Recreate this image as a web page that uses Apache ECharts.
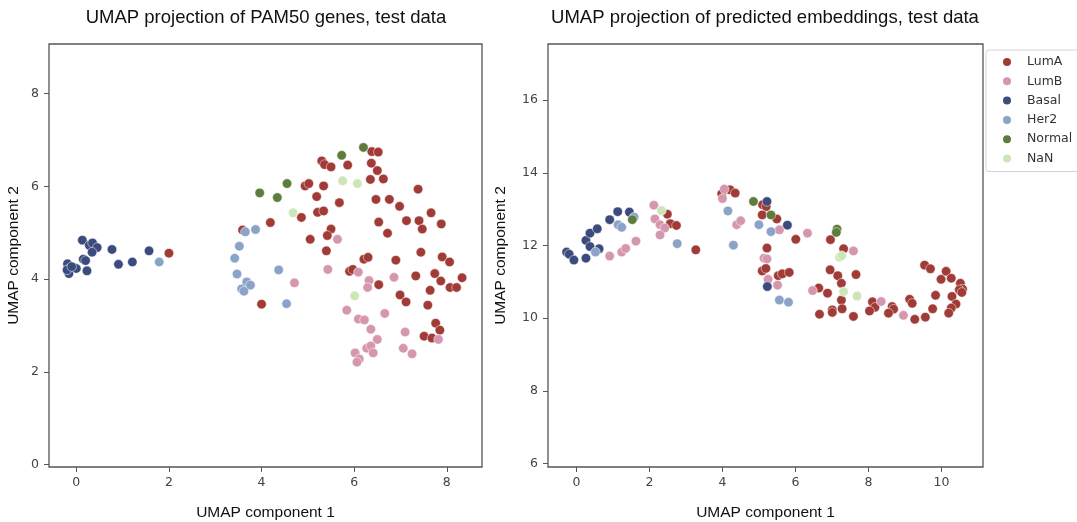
<!DOCTYPE html>
<html>
<head>
<meta charset="utf-8">
<script src="https://cdn.jsdelivr.net/npm/echarts@6/dist/echarts.min.js"></script>
<style>
html,body{margin:0;padding:0;background:#fff;}
#chart{width:1077px;height:522px;}
</style>
</head>
<body>
<div id="chart"></div>
<script>
// ---------- data ----------
const classNames = ['LumA', 'LumB', 'Basal', 'Her2', 'Normal', 'NaN'];
const classColors = ['#a03b37', '#d597ae', '#3c4b7e', '#8aa3c7', '#5e7d3d', '#cde6b8'];

const titleLeft = 'UMAP projection of PAM50 genes, test data';
const titleRight = 'UMAP projection of predicted embeddings, test data';
const xAxisName = 'UMAP component 1';
const yAxisName = 'UMAP component 2';

const leftXTicks = [0, 2, 4, 6, 8];
const leftYTicks = [0, 2, 4, 6, 8];
const rightXTicks = [0, 2, 4, 6, 8, 10];
const rightYTicks = [6, 8, 10, 12, 14, 16];

// PAM50 genes projection (left)
const pamLumA = [
  [2.0,4.56],[6.38,6.75],[6.52,6.74],[5.30,6.55],[5.36,6.47],[5.5,6.42],[5.86,6.46],[6.37,6.50],
  [6.5,6.34],[6.35,6.15],[6.63,6.16],[4.94,6.01],[5.02,6.06],[5.34,6.01],[7.38,5.94],[5.19,5.78],
  [5.68,5.65],[6.47,5.72],[6.76,5.72],[6.98,5.57],[7.66,5.43],[5.21,5.44],[5.34,5.47],[4.86,5.33],
  [4.19,5.22],[3.59,5.06],[6.53,5.23],[7.13,5.26],[7.4,5.26],[7.47,5.08],[7.88,5.19],[6.72,4.99],
  [5.5,5.08],[5.42,4.94],[5.05,4.86],[5.4,4.61],[6.21,4.43],[6.3,4.47],[6.9,4.41],[7.44,4.58],
  [7.9,4.48],[8.06,4.37],[5.9,4.17],[5.97,4.21],[7.33,4.07],[7.74,4.12],[8.33,4.03],[7.87,3.96],
  [6.53,3.88],[8.07,3.82],[8.21,3.82],[7.64,3.76],[6.99,3.66],[7.12,3.51],[7.59,3.44],[4.0,3.46],
  [7.76,3.05],[7.85,2.9],[7.51,2.77],[7.68,2.73]
];
const pamLumB = [
  [5.64,4.86],[5.43,4.21],[4.71,3.92],[6.09,4.15],[6.32,3.97],[6.29,3.82],[6.86,4.04],[5.84,3.33],
  [6.09,3.14],[6.22,3.12],[6.66,3.26],[6.36,2.92],[7.1,2.86],[6.5,2.70],[6.27,2.51],[6.36,2.56],
  [6.41,2.41],[6.02,2.41],[6.11,2.28],[6.06,2.21],[7.06,2.51],[7.25,2.39],[7.82,2.70]
];
const pamBasal = [
  [0.13,4.84],[0.28,4.73],[0.35,4.78],[0.45,4.68],[0.34,4.58],[0.77,4.64],[0.15,4.43],[0.2,4.40],
  [-0.19,4.33],[-0.14,4.23],[-0.16,4.12],[0.0,4.23],[0.23,4.18],[0.91,4.32],[1.21,4.37],[1.57,4.61],
  [-0.2,4.2],[-0.1,4.27]
];
const pamHer2 = [
  [1.79,4.37],[3.87,5.07],[3.65,5.02],[3.52,4.71],[3.42,4.45],[3.47,4.11],[4.37,4.2],[3.68,3.94],
  [3.76,3.87],[3.57,3.79],[3.62,3.74],[4.54,3.47]
];
const pamNormal = [[6.2,6.84],[5.73,6.67],[4.55,6.06],[3.96,5.86],[4.34,5.76]];
const pamNaN = [[5.75,6.12],[6.07,6.06],[4.68,5.43],[6.01,3.64]];

// predicted embeddings projection (right)
const embLumA = [
  [2.49,12.86],[2.57,12.6],[2.74,12.55],[3.27,11.88],[3.98,13.42],[4.21,13.53],[4.35,13.44],
  [5.1,13.12],[5.2,13.07],[5.09,12.84],[5.49,12.73],[6.01,12.17],[6.96,12.16],[5.22,11.93],
  [7.32,11.91],[5.09,11.3],[5.19,11.37],[5.53,11.17],[5.64,11.22],[5.83,11.26],[6.95,11.33],
  [7.16,11.17],[7.66,11.2],[7.26,10.96],[6.64,10.83],[6.88,10.69],[7.26,10.5],[7.01,10.23],
  [7.01,10.16],[7.28,10.26],[6.66,10.11],[7.59,10.05],[8.11,10.45],[8.18,10.3],[8.03,10.2],
  [8.65,10.32],[8.69,10.25],[8.55,10.14],[9.13,10.52],[9.2,10.41],[9.27,9.97],[9.56,10.03],
  [9.76,10.26],[9.84,10.63],[9.54,11.46],[9.7,11.36],[10.13,11.29],[10.27,11.1],[9.99,11.07],
  [10.52,10.96],[10.58,10.8],[10.49,10.78],[10.56,10.71],[10.29,10.6],[10.4,10.39],[10.27,10.28],
  [10.2,10.14]
];
const embLumB = [
  [0.91,11.71],[1.24,11.82],[1.35,11.92],[1.63,12.12],[2.12,13.11],[2.15,12.73],[2.29,12.57],
  [2.42,12.48],[2.29,12.29],[4.0,13.29],[4.05,13.55],[4.39,12.57],[4.5,12.68],[5.56,12.43],
  [6.33,12.34],[7.59,11.85],[5.14,11.65],[5.22,11.63],[5.25,11.07],[5.51,10.91],[6.47,10.76],
  [8.35,10.46],[8.96,10.08]
];
const embBasal = [
  [-0.27,11.82],[-0.2,11.76],[-0.07,11.6],[0.26,11.65],[0.26,12.14],[0.37,11.97],[0.37,12.34],
  [0.57,12.46],[0.62,11.91],[0.91,12.71],[1.13,12.93],[1.45,12.92],[5.22,13.21],[5.78,12.56],
  [5.23,10.87]
];
const embHer2 = [
  [0.52,11.82],[1.14,12.57],[1.24,12.5],[1.58,12.78],[2.76,12.05],[4.15,12.95],[4.3,12.01],
  [5.0,12.57],[5.33,12.38],[5.56,10.5],[5.81,10.44]
];
const embNormal = [[1.53,12.71],[4.85,13.21],[5.33,12.84],[7.14,12.45],[7.12,12.36]];
const embNaN = [[2.33,12.96],[7.21,11.68],[7.27,11.72],[7.32,10.73],[7.69,10.61]];

const leftSets = [pamLumA, pamLumB, pamBasal, pamHer2, pamNormal, pamNaN];
const rightSets = [embLumA, embLumB, embBasal, embHer2, embNormal, embNaN];

// ---------- chart ----------
const chart = echarts.init(document.getElementById('chart'), null, {renderer: 'canvas'});

const axisCol = '#555';
const nameStyle = {fontFamily: 'Liberation Sans', fontSize: 15.5, color: '#111'};
const labelStyle = {fontFamily: 'DejaVu Sans', fontSize: 12.5, color: '#444'};
function xAxisCfg(gi, min, max, ticks) {
  return {
    type: 'value', gridIndex: gi, min: min, max: max,
    name: xAxisName, nameLocation: 'middle', nameGap: 38,
    nameTextStyle: nameStyle,
    axisLine: {show: false, onZero: false},
    axisTick: {show: true, inside: false, length: 5, lineStyle: {color: axisCol, width: 1}, customValues: ticks},
    axisLabel: Object.assign({customValues: ticks, margin: 9}, labelStyle),
    splitLine: {show: false}
  };
}
function yAxisCfg(gi, min, max, ticks, gap) {
  return {
    type: 'value', gridIndex: gi, min: min, max: max,
    name: yAxisName, nameLocation: 'middle', nameGap: gap, nameRotate: 90,
    nameTextStyle: nameStyle,
    axisLine: {show: false, onZero: false},
    axisTick: {show: true, inside: false, length: 5, lineStyle: {color: axisCol, width: 1}, customValues: ticks},
    axisLabel: Object.assign({customValues: ticks, margin: 10}, labelStyle),
    splitLine: {show: false}
  };
}

const series = [];
[leftSets, rightSets].forEach((sets, gi) => {
  sets.forEach((pts, ci) => {
    series.push({
      name: classNames[ci], type: 'scatter', xAxisIndex: gi, yAxisIndex: gi,
      data: pts, symbolSize: 9.5,
      itemStyle: {color: classColors[ci], opacity: 1, borderColor: '#ffffff', borderWidth: 0.5},
      emphasis: {disabled: true}
    });
  });
});

chart.setOption({
  animation: false,
  backgroundColor: '#ffffff',
  title: [
    {text: titleLeft, left: 261, top: 3, textAlign: 'center',
     textStyle: {fontFamily: 'Liberation Sans', fontSize: 18.5, fontWeight: 'normal', color: '#111'}},
    {text: titleRight, left: 760, top: 3, textAlign: 'center',
     textStyle: {fontFamily: 'Liberation Sans', fontSize: 18.5, fontWeight: 'normal', color: '#111'}}
  ],
  legend: {
    data: classNames, orient: 'vertical', left: 986, top: 50,
    icon: 'circle', itemWidth: 30, itemHeight: 10, itemGap: 5.3,
    padding: [5, 30, 6, 15],
    borderColor: '#d4d4d4', borderWidth: 1, borderRadius: 3, backgroundColor: '#fff',
    textStyle: {fontFamily: 'DejaVu Sans', fontSize: 12.5, color: '#333', lineHeight: 14},
    selectedMode: false
  },
  grid: [
    {left: 49, top: 44, width: 433, height: 423, outerBoundsMode: 'none', containLabel: false,
     show: true, borderColor: axisCol, borderWidth: 1.3, backgroundColor: 'transparent'},
    {left: 548, top: 44, width: 435, height: 423, outerBoundsMode: 'none', containLabel: false,
     show: true, borderColor: axisCol, borderWidth: 1.3, backgroundColor: 'transparent'}
  ],
  xAxis: [xAxisCfg(0, -0.59, 8.76, leftXTicks), xAxisCfg(1, -0.78, 11.14, rightXTicks)],
  yAxis: [yAxisCfg(0, -0.05, 9.07, leftYTicks, 27), yAxisCfg(1, 5.91, 17.54, rightYTicks, 39)],
  series: series
});
</script>
</body>
</html>
